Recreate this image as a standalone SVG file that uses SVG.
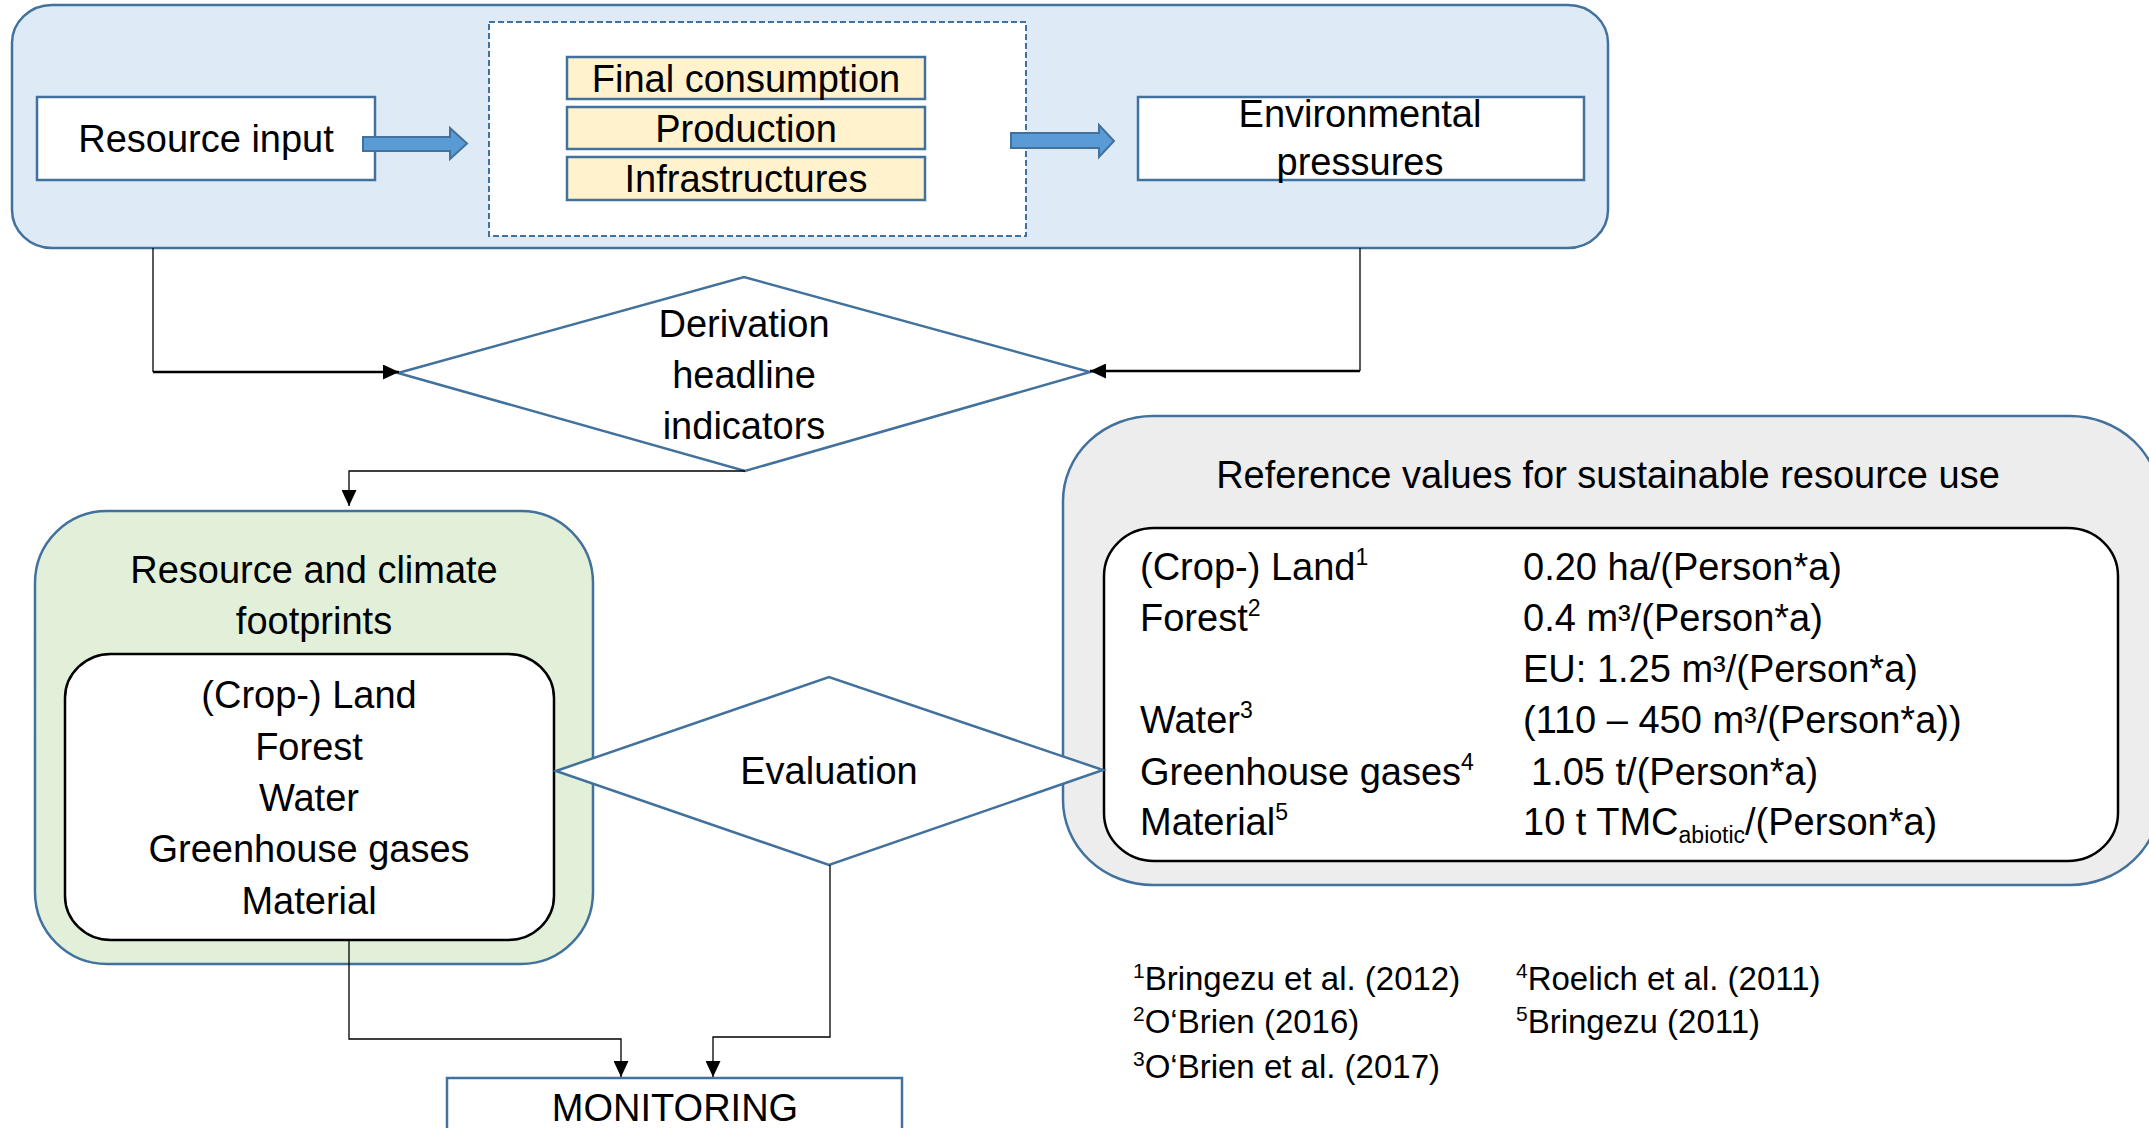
<svg xmlns="http://www.w3.org/2000/svg" width="2149" height="1128" viewBox="0 0 2149 1128">
  <style>
    text { font-family: "Liberation Sans", Arial, sans-serif; fill: #000; }
    .t { font-size: 38px; }
    .c { text-anchor: middle; }
    .fn { font-size: 33px; }
    .sup { font-size: 23px; }
    .supf { font-size: 21px; }
    .blue { fill: #fff; stroke: #41719C; stroke-width: 2.5; }
    .yellow { fill: #FFF2CC; stroke: #41719C; stroke-width: 2.5; }
    .diamond { fill: #fff; stroke: #41719C; stroke-width: 2.5; }
    .inner { fill: #fff; stroke: #000; stroke-width: 2.5; }
    .fat { fill: #5B9BD5; stroke: #41719C; stroke-width: 2; }
    .wire { fill: none; stroke: #000; stroke-width: 1.3; }
    .wire2 { fill: none; stroke: #000; stroke-width: 2.4; }
  </style>
  <defs>
    <marker id="ah" viewBox="0 0 16 15" refX="16" refY="7.5" markerWidth="16" markerHeight="15" markerUnits="userSpaceOnUse" orient="auto">
      <path d="M0,0 L16,7.5 L0,15 Z" fill="#000"/>
    </marker>
  </defs>

  <rect width="2149" height="1128" fill="#fff"/>

  <!-- upper process band -->
  <g id="process-band">
    <rect x="12" y="5" width="1596" height="243" rx="40" ry="38" fill="#DEEBF7" stroke="#41719C" stroke-width="2.5"/>
  </g>

  <g id="resource-input">
    <rect class="blue" x="37" y="97" width="338" height="83"/>
    <text class="t c" x="206" y="152">Resource input</text>
  </g>

  <g id="activities">
    <rect x="489" y="22" width="537" height="214" fill="#fff" stroke="#41719C" stroke-width="2" stroke-dasharray="6,3"/>
    <rect class="yellow" x="567" y="57" width="358" height="42"/>
    <text class="t c" x="746" y="92">Final consumption</text>
    <rect class="yellow" x="567" y="107" width="358" height="42"/>
    <text class="t c" x="746" y="142">Production</text>
    <rect class="yellow" x="567" y="157" width="358" height="43"/>
    <text class="t c" x="746" y="192">Infrastructures</text>
  </g>

  <g id="flow-arrows">
    <path class="fat" d="M363,137 H450 V128 L467,143.5 L450,159 V151 H363 Z"/>
    <path class="fat" d="M1011,133 H1099 V125 L1114,141 L1099,157 V148 H1011 Z"/>
  </g>

  <g id="environmental-pressures">
    <rect class="blue" x="1138" y="97" width="446" height="83"/>
    <text class="t c" x="1360" y="127">Environmental</text>
    <text class="t c" x="1360" y="175">pressures</text>
  </g>

  <!-- decision: derivation -->
  <g id="derivation">
    <polygon class="diamond" points="398,373 744,277 1090,372 745,471"/>
    <text class="t c" x="744" y="337">Derivation</text>
    <text class="t c" x="744" y="388">headline</text>
    <text class="t c" x="744" y="439">indicators</text>
  </g>

  <!-- footprints -->
  <g id="footprints">
    <rect x="35" y="511" width="558" height="453" rx="72" ry="72" fill="#E2F0D9" stroke="#41719C" stroke-width="2.5"/>
    <text class="t c" x="314" y="583">Resource and climate</text>
    <text class="t c" x="314" y="634">footprints</text>
    <rect class="inner" x="65" y="654" width="489" height="286" rx="46" ry="44"/>
    <text class="t c" x="309" y="708">(Crop-) Land</text>
    <text class="t c" x="309" y="760">Forest</text>
    <text class="t c" x="309" y="811">Water</text>
    <text class="t c" x="309" y="862">Greenhouse gases</text>
    <text class="t c" x="309" y="914">Material</text>
  </g>

  <!-- reference values -->
  <g id="reference-values">
    <rect x="1063" y="416" width="1097" height="469" rx="90" ry="85" fill="#EDEDED" stroke="#41719C" stroke-width="2.5"/>
    <text class="t c" x="1608" y="488">Reference values for sustainable resource use</text>
    <rect class="inner" x="1104" y="528" width="1014" height="333" rx="50" ry="48"/>
    <text class="t" x="1140" y="580">(Crop-) Land<tspan class="sup" dy="-15">1</tspan></text>
    <text class="t" x="1523" y="580">0.20 ha/(Person*a)</text>
    <text class="t" x="1140" y="631">Forest<tspan class="sup" dy="-15">2</tspan></text>
    <text class="t" x="1523" y="631">0.4 m³/(Person*a)</text>
    <text class="t" x="1523" y="682">EU: 1.25 m³/(Person*a)</text>
    <text class="t" x="1140" y="733">Water<tspan class="sup" dy="-15">3</tspan></text>
    <text class="t" x="1523" y="733">(110 – 450 m³/(Person*a))</text>
    <text class="t" x="1140" y="785">Greenhouse gases<tspan class="sup" dy="-15">4</tspan></text>
    <text class="t" x="1531" y="785">1.05 t/(Person*a)</text>
    <text class="t" x="1140" y="835">Material<tspan class="sup" dy="-15">5</tspan></text>
    <text class="t" x="1523" y="835">10 t TMC<tspan class="sup" dy="8">abiotic</tspan><tspan dy="-8">/(Person*a)</tspan></text>
  </g>

  <!-- decision: evaluation (drawn over the neighbouring panels) -->
  <g id="evaluation">
    <polygon class="diamond" points="556,771 829,677 1103,770 829,865"/>
    <text class="t c" x="829" y="784">Evaluation</text>
  </g>

  <!-- sources -->
  <g id="sources">
    <text class="fn" x="1133" y="990"><tspan class="supf" dy="-12">1</tspan><tspan dy="12">Bringezu et al. (2012)</tspan></text>
    <text class="fn" x="1133" y="1033"><tspan class="supf" dy="-12">2</tspan><tspan dy="12">O‘Brien (2016)</tspan></text>
    <text class="fn" x="1133" y="1078"><tspan class="supf" dy="-12">3</tspan><tspan dy="12">O‘Brien et al. (2017)</tspan></text>
    <text class="fn" x="1516" y="990"><tspan class="supf" dy="-12">4</tspan><tspan dy="12">Roelich et al. (2011)</tspan></text>
    <text class="fn" x="1516" y="1033"><tspan class="supf" dy="-12">5</tspan><tspan dy="12">Bringezu (2011)</tspan></text>
  </g>

  <!-- monitoring -->
  <g id="monitoring">
    <rect class="blue" x="447" y="1078" width="455" height="70"/>
    <text class="t c" x="675" y="1121">MONITORING</text>
  </g>

  <!-- connectors -->
  <g id="connectors">
    <path class="wire" d="M153,248 V372"/>
    <path class="wire2" d="M153,372 H399" marker-end="url(#ah)"/>
    <path class="wire" d="M1360,248 V371"/>
    <path class="wire2" d="M1360,371 H1090" marker-end="url(#ah)"/>
    <path class="wire" d="M745,471 H349 V506" marker-end="url(#ah)"/>
    <path class="wire" d="M349,940 V1039 H621 V1077" marker-end="url(#ah)"/>
    <path class="wire" d="M830,865 V1037 H713 V1077" marker-end="url(#ah)"/>
  </g>
</svg>
